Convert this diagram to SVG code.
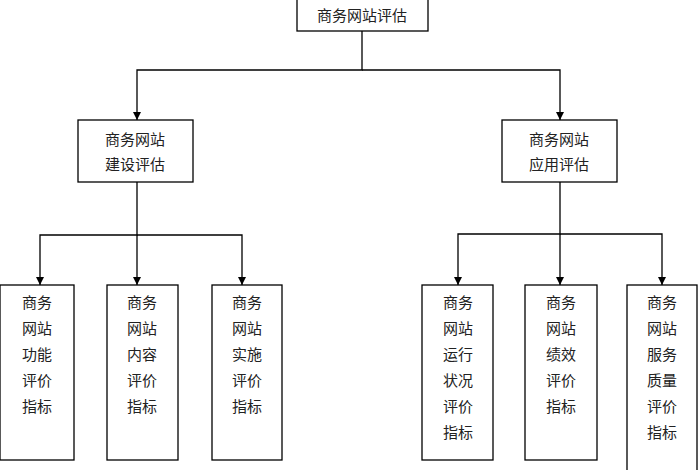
<svg xmlns="http://www.w3.org/2000/svg" width="700" height="470" viewBox="0 0 700 470">
<style>
rect{fill:#fff;stroke:#000;stroke-width:1.3}
text{font-family:"Liberation Serif","Noto Sans CJK SC",serif;font-size:15px;fill:#222;text-anchor:middle}
.c path{fill:none;stroke:#000;stroke-width:1.3;marker-end:url(#a)}
</style>
<defs><marker id="a" viewBox="0 0 10 10" refX="10" refY="5" markerWidth="8" markerHeight="8" markerUnits="userSpaceOnUse" orient="auto"><path d="M0,0L10,5L0,10z" fill="#000"/></marker></defs>
<rect width="700" height="470" style="stroke:none"/>
<g class="c">
<path d="M362,31V70H137V120"/><path d="M362,70H560V120"/>
<path d="M137,182V235H40V285"/><path d="M137,235V285"/><path d="M137,235H242V285"/>
<path d="M560,182V234H458V285"/><path d="M560,234V285"/><path d="M560,234H662V285"/>
</g>
<g id="root"><rect x="297" y="-2" width="131" height="33"/><text x="362" y="21">商务网站评估</text></g>
<g id="b1"><rect x="78" y="120" width="115" height="62"/><text x="135" y="145">商务网站</text><text x="135" y="170">建设评估</text></g>
<g id="b2"><rect x="502" y="120" width="115" height="62"/><text x="559" y="145">商务网站</text><text x="559" y="170">应用评估</text></g>
<g id="l1"><rect x="0" y="285" width="74" height="175"/><text x="37" y="308">商务</text><text x="37" y="334">网站</text><text x="37" y="360">功能</text><text x="37" y="386">评价</text><text x="37" y="412">指标</text></g>
<g id="l2"><rect x="107" y="285" width="71" height="175"/><text x="142" y="308">商务</text><text x="142" y="334">网站</text><text x="142" y="360">内容</text><text x="142" y="386">评价</text><text x="142" y="412">指标</text></g>
<g id="l3"><rect x="212" y="285" width="70" height="175"/><text x="247" y="308">商务</text><text x="247" y="334">网站</text><text x="247" y="360">实施</text><text x="247" y="386">评价</text><text x="247" y="412">指标</text></g>
<g id="r1"><rect x="422" y="285" width="71" height="175"/><text x="458" y="308">商务</text><text x="458" y="334">网站</text><text x="458" y="360">运行</text><text x="458" y="386">状况</text><text x="458" y="412">评价</text><text x="458" y="438">指标</text></g>
<g id="r2"><rect x="525" y="285" width="72" height="175"/><text x="561" y="308">商务</text><text x="561" y="334">网站</text><text x="561" y="360">绩效</text><text x="561" y="386">评价</text><text x="561" y="412">指标</text></g>
<g id="r3"><rect x="627" y="285" width="70" height="195"/><text x="662" y="308">商务</text><text x="662" y="334">网站</text><text x="662" y="360">服务</text><text x="662" y="386">质量</text><text x="662" y="412">评价</text><text x="662" y="438">指标</text></g>
</svg>
